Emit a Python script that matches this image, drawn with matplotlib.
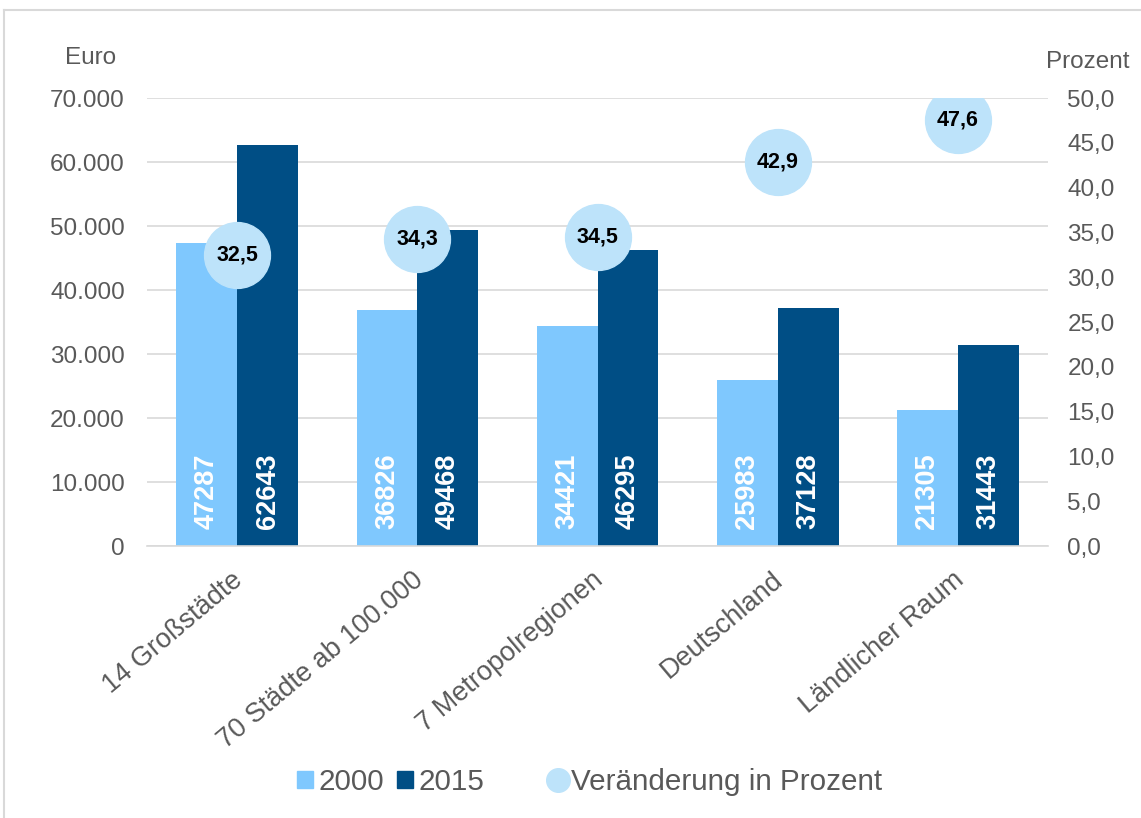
import numpy as np
import matplotlib.pyplot as plt
import matplotlib.transforms as mtrans
from matplotlib.patches import Patch
from matplotlib.lines import Line2D
from matplotlib.ticker import FuncFormatter

# data
categories = ["14 Großstädte", "70 Städte ab 100.000", "7 Metropolregionen",
              "Deutschland", "Ländlicher Raum"]
val_2000 = [47287, 36826, 34421, 25983, 21305]
val_2015 = [62643, 49468, 46295, 37128, 31443]
change_pct = [32.5, 34.3, 34.5, 42.9, 47.6]

c2000 = "#7FC8FE"
c2015 = "#004E85"
ccirc = "#BDE3FA"
tcol = "#595959"

plt.rcParams['font.family'] = ['Liberation Sans', 'DejaVu Sans']

fig = plt.figure(figsize=(11.41, 8.18), dpi=100)
ax = fig.add_axes([0.129, 0.3325, 0.7895, 0.5475])

x = np.arange(len(categories))
w = 0.338
ax.bar(x - w / 2, val_2000, w, color=c2000, zorder=2)
ax.bar(x + w / 2, val_2015, w, color=c2015, zorder=2)

# value labels inside the bars
for xs, vals in [(x - w / 2, val_2000), (x + w / 2, val_2015)]:
    for xi, v in zip(xs, vals):
        ax.annotate(str(v), (xi, 0), xytext=(0, 12), textcoords="offset points",
                    rotation=90, ha="center", va="bottom", color="white",
                    fontsize=19.5, fontweight="bold", zorder=3)

ax.set_xlim(-0.5, len(categories) - 0.5)
ax.set_ylim(0, 70000)
ax.set_yticks(np.arange(0, 70001, 10000))
ax.yaxis.set_major_formatter(FuncFormatter(lambda v, p: f"{int(v):,}".replace(",", ".")))
ax.grid(axis="y", color="#d9d9d9", lw=1.2, zorder=0)
for s in ["top", "right", "left"]:
    ax.spines[s].set_visible(False)
ax.spines["bottom"].set_color("#d9d9d9")
ax.spines["bottom"].set_linewidth(1.2)
ax.tick_params(axis="both", length=0, labelcolor=tcol)
ax.tick_params(axis="y", pad=16, labelsize=17.5)
ax.set_xticks(x)
ax.set_xticklabels(categories, rotation=40, ha="right", rotation_mode="anchor")
ax.tick_params(axis="x", pad=15, labelsize=19.5)
shift = mtrans.ScaledTranslation(-6 / 100, 0, fig.dpi_scale_trans)
for lab in ax.get_xticklabels():
    lab.set_transform(lab.get_transform() + shift)

# right axis with the percentage circles
ax2 = ax.twinx()
ax2.set_ylim(0, 50)
ax2.set_yticks(np.arange(0, 50.1, 5))
ax2.yaxis.set_major_formatter(FuncFormatter(lambda v, p: f"{v:.1f}".replace(".", ",")))
for s in ax2.spines.values():
    s.set_visible(False)
ax2.tick_params(axis="y", length=0, labelsize=17.5, labelcolor=tcol, pad=14)
ax2.scatter(x, change_pct, s=2250, color=ccirc, zorder=4)
for xi, p in zip(x, change_pct):
    ax2.text(xi, p, f"{p:.1f}".replace(".", ","), ha="center", va="center",
             fontsize=15.5, fontweight="bold", color="black", zorder=5)

fig.text(91 / 1141, 1 - 58 / 818, "Euro", ha="center", va="center", fontsize=17.5, color=tcol)
fig.text(1088 / 1141, 1 - 62 / 818, "Prozent", ha="center", va="center", fontsize=17.5, color=tcol)

# legend, one entry at a time to get the spacing
leg_items = [
    (Patch(color=c2000), "2000", 297),
    (Patch(color=c2015), "2015", 397),
    (Line2D([], [], marker="o", ls="", markersize=17, color=ccirc), "Veränderung in Prozent", 550),
]
for h, lab, px in leg_items:
    fig.legend([h], [lab], loc="center left", bbox_to_anchor=(px / 1141, 1 - 782 / 818),
               frameon=False, fontsize=21.3, handlelength=0.55, handleheight=0.55,
               handletextpad=0.17, borderpad=0, borderaxespad=0, labelcolor=tcol)

# outer frame (partly cut off)
fig.add_artist(Line2D([4 / 1141, 1], [1 - 10 / 818, 1 - 10 / 818], color="#d9d9d9", lw=1.5))
fig.add_artist(Line2D([4 / 1141, 4 / 1141], [0, 1 - 10 / 818], color="#d9d9d9", lw=1.5))

fig.savefig("out.png", dpi=100)
